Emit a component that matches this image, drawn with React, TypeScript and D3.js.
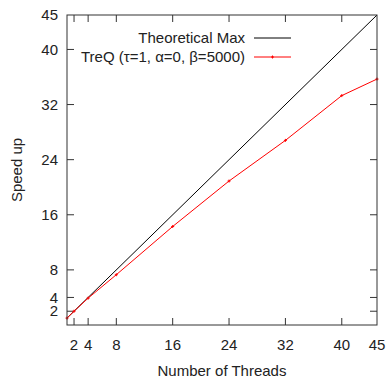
import React from 'react';
import * as d3 from 'd3';

const threads = [1, 2, 4, 8, 16, 24, 32, 40, 45];
const speedup = [1, 2, 3.9, 7.3, 14.3, 20.9, 26.8, 33.3, 35.7];
const idealX = [1, 45];
const xTicks = [2, 4, 8, 16, 24, 32, 40, 45];
const yTicks = [2, 4, 8, 16, 24, 32, 40, 45];
const legendLabels = ['Theoretical Max', 'TreQ (\u03c4=1, \u03b1=0, \u03b2=5000)'];

export default function App() {
  const width = 388;
  const height = 378;
  const margin = { top: 15, right: 11, bottom: 53, left: 67 };
  const innerW = width - margin.left - margin.right;
  const innerH = height - margin.top - margin.bottom;

  const x = d3.scaleLinear().domain([1, 45]).range([0, innerW]);
  const y = d3.scaleLinear().domain([0, 45]).range([innerH, 0]);

  const line = d3.line<[number, number]>()
    .x(d => x(d[0]))
    .y(d => y(d[1]));

  const idealPath = line(idealX.map(v => [v, v] as [number, number]));
  const treqPath = line(threads.map((t, i) => [t, speedup[i]] as [number, number]));

  const font = '"Liberation Sans", Arial, sans-serif';
  const tickLen = 7;
  const axisColor = '#333';

  return (
    <div style={{ position: 'absolute', left: 0, top: 0 }}>
      <svg width={width} height={height} style={{ display: 'block' }} fontFamily={font} fontSize={15}>
        <rect width={width} height={height} fill="#fff" />
        <g transform={`translate(${margin.left},${margin.top})`}>
          {/* x ticks, bottom and top */}
          {xTicks.map(t => (
            <g key={`x${t}`}>
              {t !== 45 && (
                <>
                  <line x1={x(t)} x2={x(t)} y1={innerH} y2={innerH - tickLen} stroke={axisColor} />
                  <line x1={x(t)} x2={x(t)} y1={0} y2={tickLen} stroke={axisColor} />
                </>
              )}
              <text x={x(t)} y={innerH + 25} textAnchor="middle" fill="#222">{t}</text>
            </g>
          ))}
          {/* y ticks, left and right */}
          {yTicks.map(t => (
            <g key={`y${t}`}>
              {t !== 45 && (
                <>
                  <line x1={0} x2={tickLen} y1={y(t)} y2={y(t)} stroke={axisColor} />
                  <line x1={innerW} x2={innerW - tickLen} y1={y(t)} y2={y(t)} stroke={axisColor} />
                </>
              )}
              <text x={-9} y={y(t)} dy="0.35em" textAnchor="end" fill="#222">{t}</text>
            </g>
          ))}

          <path d={idealPath ?? ''} fill="none" stroke="#000" strokeWidth={1} />
          <path d={treqPath ?? ''} fill="none" stroke="#f00" strokeWidth={1} />
          {threads.map((t, i) => (
            <g key={`p${t}`} stroke="#f00" strokeWidth={1}>
              <line x1={x(t) - 1.5} x2={x(t) + 1.5} y1={y(speedup[i])} y2={y(speedup[i])} />
              <line x1={x(t)} x2={x(t)} y1={y(speedup[i]) - 1.5} y2={y(speedup[i]) + 1.5} />
            </g>
          ))}

          {/* legend */}
          <g>
            <text x={178} y={23} dy="0.35em" textAnchor="end" fill="#222">{legendLabels[0]}</text>
            <line x1={187} x2={224} y1={23} y2={23} stroke="#000" />
            <text x={178} y={42} dy="0.35em" textAnchor="end" fill="#222">{legendLabels[1]}</text>
            <line x1={187} x2={224} y1={42} y2={42} stroke="#f00" />
            <line x1={204} x2={207} y1={42} y2={42} stroke="#f00" />
            <line x1={205.5} x2={205.5} y1={40.5} y2={43.5} stroke="#f00" />
          </g>

          <rect x={0} y={0} width={innerW} height={innerH} fill="none" stroke={axisColor} strokeWidth={1} />
        </g>
        <text x={margin.left + innerW / 2} y={376} textAnchor="middle" fill="#222">Number of Threads</text>
        <text transform={`translate(22,${margin.top + innerH / 2}) rotate(-90)`} textAnchor="middle" fill="#222">Speed up</text>
      </svg>
    </div>
  );
}
